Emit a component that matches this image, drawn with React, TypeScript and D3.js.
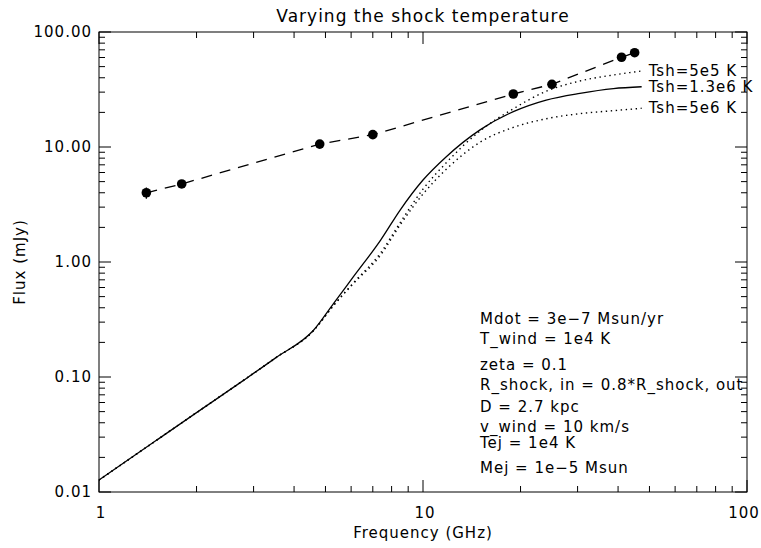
import React from "react";
import * as d3 from "d3";

const title = "Varying the shock temperature";
const xTitle = "Frequency (GHz)";
const yTitle = "Flux (mJy)";

const xTickValues = [1, 10, 100];
const xTickLabels = ["1", "10", "100"];
const yTickValues = [0.01, 0.1, 1, 10, 100];
const yTickLabels = ["0.01", "0.10", "1.00", "10.00", "100.00"];

// observed points
const obsFreq = [1.4, 1.8, 4.8, 7.0, 19, 25, 41, 45];
const obsFlux = [4.0, 4.77, 10.6, 12.8, 28.9, 35.1, 60.3, 66.1];
const obsErr = [0.45, 0.35, 0.4, 0.4, 1.0, 1.2, 2.0, 2.0];

// model curves
const modelFreq = [1, 1.5, 2, 2.8, 3.5, 4.6, 5.3, 6.1, 7.4, 8.5, 10, 11.8, 15, 19, 24, 30.5, 38.7, 47.3];
const fluxT13e6 = [0.0127, 0.028, 0.049, 0.094, 0.146, 0.256, 0.437, 0.745, 1.55, 2.83, 5.16, 8.24, 14.1, 20.3, 25.6, 29.3, 32.2, 33.4];
const fluxT5e5 = [0.0127, 0.028, 0.049, 0.094, 0.146, 0.254, 0.42, 0.66, 1.2, 2.2, 4.3, 7.3, 13.8, 21.5, 30.5, 37.5, 42.3, 45.8];
const fluxT5e6 = [0.0127, 0.028, 0.049, 0.094, 0.146, 0.254, 0.42, 0.65, 1.15, 2.1, 3.9, 6.4, 11.0, 14.8, 17.6, 19.5, 20.7, 21.7];

const curveLabels = ["Tsh=5e5 K", "Tsh=1.3e6 K", "Tsh=5e6 K"];

const annotations = [
  "Mdot = 3e\u22127 Msun/yr",
  "T_wind = 1e4 K",
  "zeta = 0.1",
  "R_shock, in = 0.8*R_shock, out",
  "D = 2.7 kpc",
  "v_wind = 10 km/s",
  "Tej = 1e4 K",
  "Mej = 1e\u22125 Msun",
];
const annotationY = [319, 339, 365, 385, 407, 427, 443, 468];

const W = 761;
const H = 548;
const M = { left: 99, right: 747, top: 32, bottom: 492 };
const FONT = "'DejaVu Sans', sans-serif";

export default function App() {
  const x = d3.scaleLog().domain([1, 100]).range([M.left, M.right]);
  const y = d3.scaleLog().domain([0.01, 100]).range([M.bottom, M.top]);

  const line = d3
    .line<[number, number]>()
    .x((d) => x(d[0]))
    .y((d) => y(d[1]))
    .curve(d3.curveMonotoneX);

  const mk = (fl: number[]) => modelFreq.map((f, i) => [f, fl[i]] as [number, number]);
  const obsPts = obsFreq.map((f, i) => [f, obsFlux[i]] as [number, number]);
  const obsLine = d3.line<[number, number]>().x((d) => x(d[0])).y((d) => y(d[1]));

  const xt = x.ticks();
  const yt = y.ticks();
  const isMajor = (v: number, majors: number[]) => majors.some((m) => Math.abs(v - m) / m < 1e-6);
  const major = 12;
  const minor = 6;
  const lastF = modelFreq[modelFreq.length - 1];
  const labelFluxes = [fluxT5e5, fluxT13e6, fluxT5e6].map((a) => a[a.length - 1]);

  const txt = { fontFamily: FONT, fontSize: 15, fill: "#000", letterSpacing: 1 } as const;

  return (
    <svg width={W} height={H} style={{ position: "absolute", left: 0, top: 0, background: "#fff" }}>
      <rect x={0} y={0} width={W} height={H} fill="#fff" />
      <g stroke="#000" strokeWidth={1} fill="none">
        <rect x={M.left} y={M.top} width={M.right - M.left} height={M.bottom - M.top} />
        {xt.map((v, i) => {
          const L = isMajor(v, xTickValues) ? major : minor;
          const px = x(v);
          return (
            <g key={"xt" + i}>
              <line x1={px} x2={px} y1={M.bottom} y2={M.bottom - L} />
              <line x1={px} x2={px} y1={M.top} y2={M.top + L} />
            </g>
          );
        })}
        {yt.map((v, i) => {
          const L = isMajor(v, yTickValues) ? major : minor;
          const py = y(v);
          return (
            <g key={"yt" + i}>
              <line x1={M.left} x2={M.left + L} y1={py} y2={py} />
              <line x1={M.right} x2={M.right - L} y1={py} y2={py} />
            </g>
          );
        })}
      </g>
      <g {...txt}>
        {xTickValues.map((v, i) => (
          <text key={"xl" + i} x={Math.min(x(v) + 2, W - 17)} y={518} textAnchor="middle">
            {xTickLabels[i]}
          </text>
        ))}
        {yTickValues.map((v, i) => (
          <text key={"yl" + i} x={M.left - 7} y={y(v) + 5} textAnchor="end">
            {yTickLabels[i]}
          </text>
        ))}
        <text x={(M.left + M.right) / 2} y={538} textAnchor="middle">
          {xTitle}
        </text>
        <text transform={`translate(25,${(M.top + M.bottom) / 2}) rotate(-90)`} textAnchor="middle">
          {yTitle}
        </text>
        <text x={(M.left + M.right) / 2} y={22} textAnchor="middle" fontSize={17}>
          {title}
        </text>
      </g>
      <g fill="none" stroke="#000">
        <path d={line(mk(fluxT13e6)) || ""} strokeWidth={1.3} />
        <path d={line(mk(fluxT5e5)) || ""} strokeWidth={1.4} strokeDasharray="1.4,3.6" />
        <path d={line(mk(fluxT5e6)) || ""} strokeWidth={1.4} strokeDasharray="1.4,3.6" />
        <path d={obsLine(obsPts) || ""} strokeWidth={1.3} strokeDasharray="11,8" />
      </g>
      <g>
        {obsPts.map((p, i) => (
          <g key={"o" + i}>
            <line
              x1={x(p[0])}
              x2={x(p[0])}
              y1={y(p[1] + obsErr[i])}
              y2={y(p[1] - obsErr[i])}
              stroke="#000"
              strokeWidth={1.3}
            />
            <circle cx={x(p[0])} cy={y(p[1])} r={4.8} fill="#000" />
          </g>
        ))}
      </g>
      <g {...txt}>
        {curveLabels.map((s, i) => (
          <text key={"cl" + i} x={x(lastF) + 7} y={y(labelFluxes[i]) + 5}>
            {s}
          </text>
        ))}
        {annotations.map((s, i) => (
          <text key={"an" + i} x={480} y={annotationY[i] + 5}>
            {s}
          </text>
        ))}
      </g>
    </svg>
  );
}
